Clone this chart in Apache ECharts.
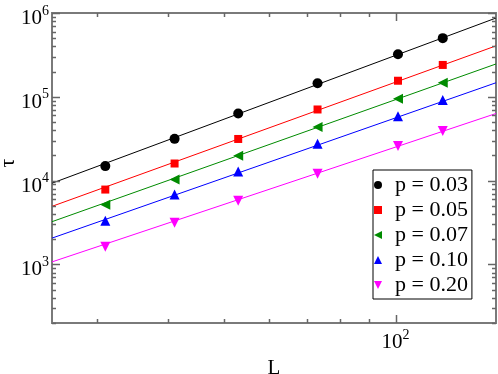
<!DOCTYPE html>
<html>
<head>
<meta charset="utf-8">
<script src="https://cdn.jsdelivr.net/npm/echarts@6/dist/echarts.min.js"></script>
<style>
html, body { margin: 0; padding: 0; background: #fff; }
#container { width: 498px; height: 374px; }
</style>
</head>
<body>
<div id="container"></div>
<script>
// system sizes L and relaxation times tau
var sizesL = [31, 41, 53, 73, 101, 121];
var tau003 = [14900, 31500, 63200, 144800, 322000, 501000];
var tau005 = [7820, 16000, 31400, 70600, 155500, 240000];
var tau007 = [5170, 10300, 19800, 43700, 94600, 147200];
var tau010 = [3320, 6810, 12850, 27600, 58700, 91300];
var tau020 = [1620, 3150, 5770, 12070, 25800, 39100];

// fitted power-law lines, end points at the plot edges
var fitL = [25, 150];
var fit003 = [9310, 871000];
var fit005 = [4930, 405500];
var fit007 = [3236, 246600];
var fit010 = [2061, 147200];
var fit020 = [1072, 63200];

var names = ['p = 0.03', 'p = 0.05', 'p = 0.07', 'p = 0.10', 'p = 0.20'];
var colors = ['#000000', '#ff0000', '#008b00', '#0000ff', '#ff00ff'];

// tick values
var xMajor = [100];
var xMinor = [30, 40, 50, 60, 70, 80, 90];
var yMajor = [1000, 10000, 100000, 1000000];
var yMinor = [200, 300, 400, 500, 600, 700, 800, 900,
    2000, 3000, 4000, 5000, 6000, 7000, 8000, 9000,
    20000, 30000, 40000, 50000, 60000, 70000, 80000, 90000,
    200000, 300000, 400000, 500000, 600000, 700000, 800000, 900000];

var font = 'Liberation Serif';
var frame = '#7a7a7a';

var symbols = [
    'circle',
    'path://M0,0 L10,0 L10,10 L0,10 Z',
    'path://M0,5 L10,0 L10,10 Z',
    'path://M5,0 L10,10 L0,10 Z',
    'path://M0,0 L10,0 L5,10 Z'
];
var symbolSizes = [10, 8, 10, 10, 10];

function pairs(xs, ys) {
    return xs.map(function (x, i) { return [x, ys[i]]; });
}

function powLabel(v) {
    var e = Math.round(Math.log(v) / Math.LN10);
    return '{b|10}{s|' + e + '}';
}

var rich = {
    b: { fontFamily: font, fontSize: 21, color: '#000', verticalAlign: 'bottom' },
    s: { fontFamily: font, fontSize: 14, color: '#000', verticalAlign: 'bottom', padding: [0, 0, 11, 0] }
};

var dom = document.getElementById('container');
var myChart = echarts.init(dom, null, { renderer: 'canvas' });

var sets = [tau003, tau005, tau007, tau010, tau020];
var fits = [fit003, fit005, fit007, fit010, fit020];
var series = [];

fits.forEach(function (f, i) {
    series.push({
        type: 'line',
        data: pairs(fitL, f),
        showSymbol: false,
        symbol: 'none',
        silent: true,
        lineStyle: { color: colors[i], width: 1 },
        z: 1
    });
});

sets.forEach(function (s, i) {
    series.push({
        name: names[i],
        type: 'scatter',
        data: pairs(sizesL, s),
        symbol: symbols[i],
        symbolSize: symbolSizes[i],
        itemStyle: { color: colors[i], opacity: 1 },
        z: 3
    });
});

myChart.setOption({
    animation: false,
    backgroundColor: '#fff',
    grid: {
        left: 52, right: 2, top: 13, bottom: 51,
        outerBoundsMode: 'none',
        containLabel: false,
        show: true, borderColor: frame, borderWidth: 2
    },
    legend: {
        data: names.map(function (n, i) {
            return { name: n, icon: symbols[i] };
        }),
        orient: 'vertical',
        left: 373,
        top: 170,
        itemWidth: 24,
        itemHeight: 8,
        itemGap: 3,
        padding: [4, 4, 3, 1],
        borderColor: '#000',
        borderWidth: 1,
        backgroundColor: '#fff',
        textStyle: { fontFamily: font, fontSize: 22, color: '#000' }
    },
    xAxis: {
        type: 'log', logBase: 10, min: 25, max: 150,
        axisLine: { show: false },
        axisTick: { show: false },
        splitLine: { show: false },
        axisLabel: { show: true, customValues: xMajor, formatter: powLabel, rich: rich, margin: 5 },
        name: 'L', nameLocation: 'middle', nameGap: 20,
        nameTextStyle: { fontFamily: font, fontSize: 21, color: '#000' }
    },
    yAxis: {
        type: 'log', logBase: 10, min: 200, max: 1000000,
        axisLine: { show: false },
        axisTick: { show: false },
        splitLine: { show: false },
        axisLabel: { show: true, customValues: yMajor, formatter: powLabel, rich: rich, margin: 3,
            padding: [7, 0, 0, 0] }
    },
    series: series
});

// inward tick marks on all four sides, placed with the chart's own axes
var lo = myChart.convertToPixel({ gridIndex: 0 }, [25, 200]);
var hi = myChart.convertToPixel({ gridIndex: 0 }, [150, 1000000]);
var graphics = [];

function tickLine(x1, y1, x2, y2) {
    graphics.push({
        type: 'line',
        z: 100,
        shape: { x1: x1, y1: y1, x2: x2, y2: y2 },
        style: { stroke: '#666666', lineWidth: 1.5 }
    });
}

function addXTicks(vals, len) {
    vals.forEach(function (v) {
        var x = Math.round(myChart.convertToPixel({ xAxisIndex: 0 }, v)) + 0.5;
        tickLine(x, lo[1], x, lo[1] - len);
        tickLine(x, hi[1], x, hi[1] + len);
    });
}

function addYTicks(vals, len) {
    vals.forEach(function (v) {
        var y = Math.round(myChart.convertToPixel({ yAxisIndex: 0 }, v)) + 0.5;
        tickLine(lo[0], y, lo[0] + len, y);
        tickLine(hi[0], y, hi[0] - len, y);
    });
}

addXTicks(xMajor, 8);
addXTicks(xMinor, 4);
addYTicks(yMajor, 8);
addYTicks(yMinor, 4);

// y axis title, rotated like the original
graphics.push({
    type: 'text',
    x: 8, y: 163, rotation: Math.PI / 2,
    style: { text: 'τ', fontFamily: font, fontSize: 22, fill: '#000', align: 'center', verticalAlign: 'middle' }
});

myChart.setOption({ graphic: graphics });

window.addEventListener('resize', function () {
    myChart.resize();
});
</script>
</body>
</html>
